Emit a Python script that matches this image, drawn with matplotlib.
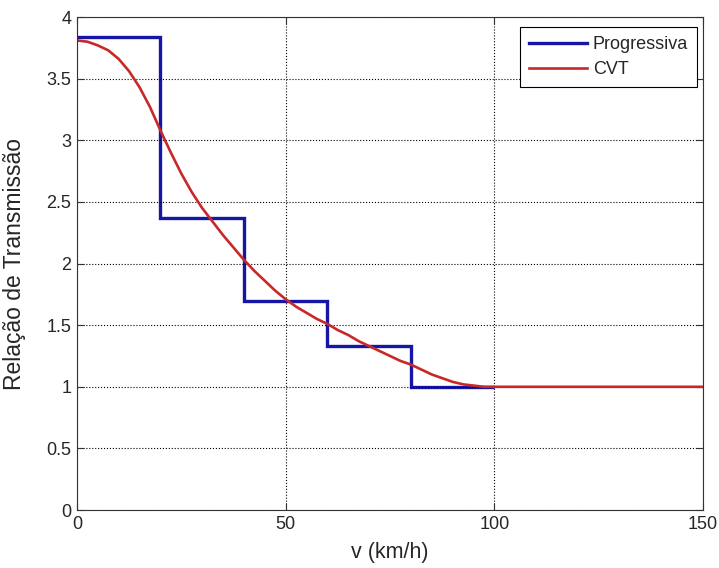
import matplotlib
matplotlib.use('Agg')
import matplotlib.pyplot as plt

plt.rcParams['font.family'] = ['Liberation Sans', 'DejaVu Sans']

# Câmbio progressivo: limites de velocidade de cada marcha e relação
limites_marcha = [0, 20, 40, 60, 80, 100]
relacoes_marcha = [3.84, 2.37, 1.70, 1.33, 1.00]

# CVT: relação contínua em função da velocidade
v_cvt = [0, 2.5, 5, 7.5, 10, 12.5, 15, 17.5, 20, 22.5, 25, 27.5, 30, 32.5,
         35, 37.5, 40, 42.5, 45, 47.5, 50, 52.5, 55, 57.5, 60, 62.5, 65, 67.5,
         70, 72.5, 75, 77.5, 80, 82.5, 85, 87.5, 90, 92.5, 95, 97.5, 100, 150]
r_cvt = [3.81, 3.80, 3.77, 3.73, 3.66, 3.56, 3.43, 3.27, 3.08, 2.90, 2.73,
         2.58, 2.45, 2.34, 2.23, 2.13, 2.03, 1.94, 1.86, 1.78, 1.71, 1.65,
         1.60, 1.55, 1.51, 1.46, 1.42, 1.37, 1.33, 1.29, 1.25, 1.21, 1.18,
         1.14, 1.10, 1.07, 1.04, 1.02, 1.01, 1.00, 1.00, 1.00]

cor_texto = '#262626'

fig = plt.figure(figsize=(7.19, 5.68), dpi=100)
ax = fig.add_axes([0.107, 0.102, 0.871, 0.868])

ax.stairs(relacoes_marcha, limites_marcha, baseline=None, color='#1616a6',
          linewidth=2.4, label='Progressiva')
ax.plot(v_cvt, r_cvt, color='#c82828', linewidth=1.9, label='CVT',
        solid_joinstyle='round')

ax.set_xlim(0, 150)
ax.set_ylim(0, 4)
ax.set_xticks([0, 50, 100, 150])
ax.set_yticks([0, 0.5, 1, 1.5, 2, 2.5, 3, 3.5, 4])
ax.set_yticklabels(['0', '0.5', '1', '1.5', '2', '2.5', '3', '3.5', '4'])

ax.grid(True, linestyle=':', color='black', linewidth=0.8)
ax.tick_params(direction='in', top=True, right=True, labelsize=13, length=5,
               width=0.8, pad=4, labelcolor=cor_texto, color='#333333')
for lado in ax.spines.values():
    lado.set_linewidth(0.8)
    lado.set_color('#333333')

ax.set_xlabel('v (km/h)', fontsize=15.5, color=cor_texto)
ax.set_ylabel('Relação de Transmissão', fontsize=16.5, color=cor_texto)
ax.xaxis.set_label_coords(0.5, -0.064)
ax.yaxis.set_label_coords(-0.082, 0.5)

leg = ax.legend(loc='upper right', bbox_to_anchor=(0.990, 0.980),
                borderaxespad=0, fontsize=13, fancybox=False, framealpha=1,
                edgecolor='black', handlelength=3.2, handletextpad=0.3,
                borderpad=0.5, labelspacing=0.45)
leg.get_frame().set_linewidth(0.8)
for txt in leg.get_texts():
    txt.set_color(cor_texto)

fig.savefig('out.png', dpi=100)
